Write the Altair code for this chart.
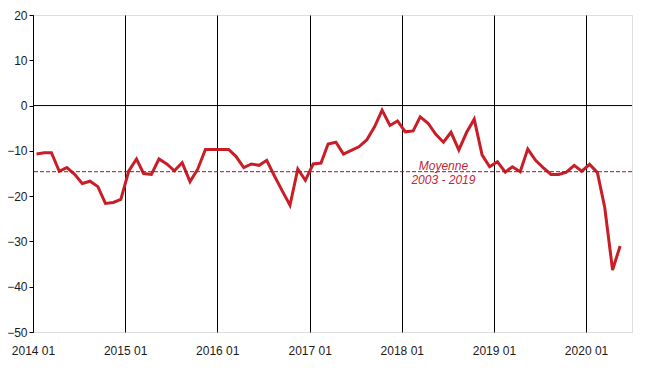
import altair as alt
import pandas as pd

values = [
    -10.7, -10.4, -10.4, -14.5, -13.7, -15.2, -17.2, -16.7, -17.9, -21.6, -21.4, -20.7,
    -14.5, -11.8, -15.0, -15.2, -11.8, -12.9, -14.4, -12.6, -16.8, -14.1, -9.7, -9.7,
    -9.7, -9.7, -11.2, -13.7, -12.9, -13.2, -12.1, -15.6, -18.9, -22.0, -14.0, -16.5,
    -12.9, -12.7, -8.5, -8.1, -10.7, -9.9, -9.1, -7.6, -4.7, -1.0, -4.4, -3.4,
    -5.8, -5.6, -2.5, -3.9, -6.3, -8.1, -5.9, -9.8, -5.9, -3.0, -10.9, -13.5,
    -12.4, -14.7, -13.5, -14.6, -9.6, -12.1, -13.7, -15.2, -15.2, -14.7, -13.2, -14.5,
    -13.0, -14.8, -22.5, -36.3, -31.0,
]
start_year = 2014
dates = [f"{start_year + i // 12}-{i % 12 + 1:02d}-15" for i in range(len(values))]
average = -14.6
avg_label = ["Moyenne", "2003 - 2019"]
avg_label_y = [-13.3, -16.4]
year_ticks = [f"{y}-01-01" for y in range(2014, 2021)]
y_ticks = list(range(-50, 30, 10))

df = pd.DataFrame({"date": dates, "value": values})
x_dom = ["2014-01-01", "2020-07-01"]
FONT = "Liberation Sans"

x_enc = alt.X(
    "date:T",
    scale=alt.Scale(domain=x_dom),
    axis=alt.Axis(
        values=year_ticks, format="%Y %m", title=None, grid=True, gridColor="#000000",
        gridWidth=1, gridOpacity=1, domain=False, ticks=False, labelFontSize=12,
        labelFont=FONT, labelColor="#1a1a1a", labelPadding=13, labelFlush=False,
    ),
)
y_enc = alt.Y(
    "value:Q",
    scale=alt.Scale(domain=[-50, 20], nice=False),
    axis=alt.Axis(
        values=y_ticks, title=None, grid=False, domainColor="#000000", tickColor="#000000",
        tickSize=4, labelFontSize=12, labelFont=FONT, labelColor="#1a1a1a", labelPadding=2,
    ),
)

line = alt.Chart(df).mark_line(color="#C81E28", strokeWidth=3).encode(x=x_enc, y=y_enc)

zero = alt.Chart(pd.DataFrame({"y": [0]})).mark_rule(color="#000000", strokeWidth=1).encode(
    y=alt.Y("y:Q", scale=alt.Scale(domain=[-50, 20], nice=False))
)

avg = alt.Chart(pd.DataFrame({"y": [average]})).mark_rule(
    color="#A0142A", strokeWidth=1, strokeDash=[4, 2]
).encode(y=alt.Y("y:Q", scale=alt.Scale(domain=[-50, 20], nice=False)))

lab_df = pd.DataFrame({"date": ["2018-06-15", "2018-06-15"], "y": avg_label_y, "t": avg_label})
labels = alt.Chart(lab_df).mark_text(
    font=FONT, fontSize=12, fontStyle="italic", color="#C0283A", align="center", baseline="middle"
).encode(
    x=alt.X("date:T", scale=alt.Scale(domain=x_dom)),
    y=alt.Y("y:Q", scale=alt.Scale(domain=[-50, 20], nice=False)),
    text="t:N",
)

chart = alt.layer(line, zero, avg, labels).properties(
    width=599, height=317, autosize=alt.AutoSizeParams(type="none"),
    padding={"left": 25, "top": 7, "right": 10, "bottom": 30},
).configure_view(stroke=None).configure(background="#ffffff")

chart.save("out.html", embed_options={"renderer": "svg", "actions": False})
